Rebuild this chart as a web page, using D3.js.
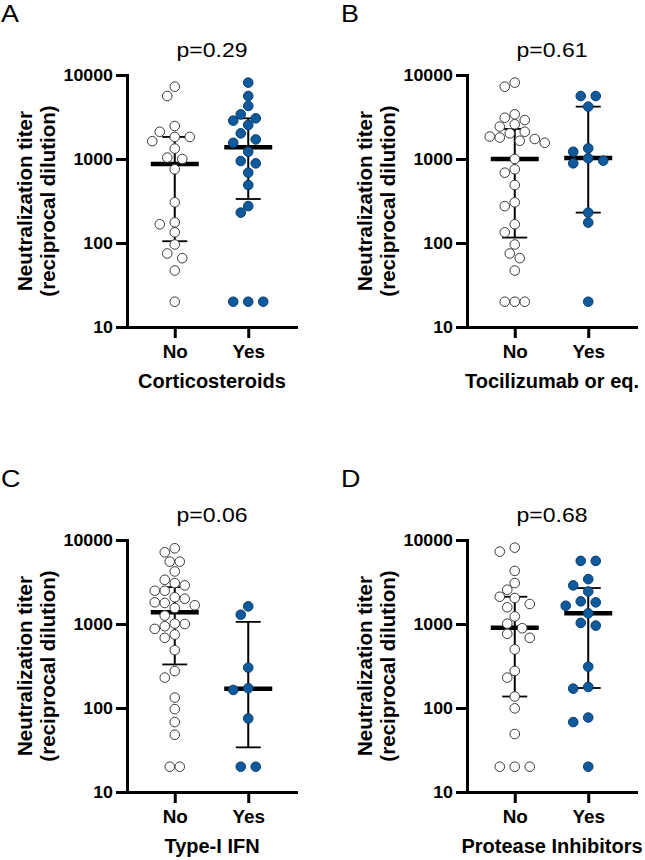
<!DOCTYPE html>
<html>
<head>
<meta charset="utf-8">
<script src="https://cdn.jsdelivr.net/npm/d3@7"></script>
<style>
  body { margin: 0; background: #fff; }
  svg { display: block; font-family: "Liberation Sans", Arial, sans-serif; }
</style>
</head>
<body>
<div class="figure"></div>
<script>
//Panel labels and texts
var panelLetters = ["A", "B", "C", "D"];
var treatments = ["Corticosteroids", "Tocilizumab or eq.", "Type-I IFN", "Protease Inhibitors"];
var pValues = ["p=0.29", "p=0.61", "p=0.06", "p=0.68"];
var groups = ["No", "Yes"];
var yTicks = [10, 100, 1000, 10000];

//Titers (reciprocal dilution)
var corticoNo = [7260, 5620, 2470, 2110, 1830, 1830, 1630, 1330, 1040, 1000, 754, 305, 176, 167, 134, 96, 75, 66, 47, 20];
var corticoYes = [8110, 5620, 4280, 3400, 3050, 2860, 2540, 2020, 1710, 1560, 1220, 946, 888, 687, 490, 275, 230, 20, 20, 20];
var tociNo = [8110, 7260, 3400, 3100, 2910, 2590, 2430, 2110, 2020, 1850, 1800, 1730, 1650, 1560, 1000, 754, 687, 490, 305, 275, 167, 134, 96, 75, 66, 47, 20, 20, 20];
var tociYes = [5620, 5620, 4200, 1340, 1220, 1020, 955, 888, 230, 175, 20];
var ifnNo = [7970, 7140, 5530, 5530, 4220, 3360, 3070, 2880, 2490, 2490, 2080, 2000, 1810, 1780, 1670, 1550, 1260, 1010, 1000, 940, 875, 748, 684, 488, 275, 230, 133, 97, 68, 48, 20, 20];
var ifnYes = [1620, 1290, 302, 172, 164, 75, 20, 20];
var piNo = [8110, 7270, 4290, 3070, 2560, 2110, 2040, 1730, 1580, 1230, 1010, 890, 764, 684, 498, 276, 230, 137, 99, 49, 20, 20, 20];
var piYes = [5640, 5640, 3420, 2880, 2440, 1860, 1810, 1650, 1340, 1030, 957, 310, 178, 170, 77, 68, 20];

//Median and error bar ends, [No, Yes] per panel
var medians = [[870, 1380], [1000, 1030], [1380, 170], [900, 1340]];
var lowerBars = [[105, 334], [116, 230], [330, 34], [137, 173]];
var upperBars = [[1830, 3050], [2280, 4200], [2750, 1060], [2110, 2680]];

var panelData = [[corticoNo, corticoYes], [tociNo, tociYes], [ifnNo, ifnYes], [piNo, piYes]];

//Width and height
var w = 645;
var h = 860;
var plotW = 169;
var plotH = 252;
var blue = "#0f5a9c";

var svg = d3.select(".figure")
    .append("svg")
    .attr("width", w)
    .attr("height", h);

//Text helper, sx widens glyphs a bit to match the original font
function addText(parent, x, y, str, size, weight, anchor, sx, rotate) {
    return parent.append("text")
        .attr("transform", "translate(" + x + "," + y + ")" + (rotate ? " rotate(-90)" : "") + " scale(" + sx + ",1)")
        .attr("text-anchor", anchor)
        .style("font-size", size + "px")
        .style("font-weight", weight)
        .style("fill", "#000")
        .text(str);
}

//Beeswarm: tied values spread symmetrically, rows then nudged sideways on collision
function swarm(values, yScale, step) {
    var pts = values.map(v => ({ v: v, y: yScale(v), dx: 0 }))
        .sort((a, b) => a.y - b.y);
    var rows = [];
    pts.forEach(p => {
        var last = rows[rows.length - 1];
        if (last && Math.abs(last[0].y - p.y) < 1.5) last.push(p);
        else rows.push([p]);
    });
    var placed = [];
    var minDist = 9.8;
    rows.forEach(row => {
        var n = row.length;
        var shifts = [0];
        for (var k = 1; k < 12; k++) shifts.push(-k * step / 2, k * step / 2);
        for (var s = 0; s < shifts.length; s++) {
            var ok = row.every((p, i) => {
                var x = (i - (n - 1) / 2) * step + shifts[s];
                return placed.every(q => Math.hypot(q.dx - x, q.y - p.y) >= minDist);
            });
            if (ok) {
                row.forEach((p, i) => { p.dx = (i - (n - 1) / 2) * step + shifts[s]; });
                break;
            }
        }
        row.forEach(p => placed.push(p));
    });
    return pts;
}

function drawPanel(i, ox, oy) {
    var panel = svg.append("g").attr("transform", "translate(" + ox + "," + oy + ")");

    addText(panel, 1, 22, panelLetters[i], 24, "normal", "start", 1.12);
    addText(panel, 212, 57, pValues[i], 20, "normal", "middle", 1.15);

    var plot = panel.append("g").attr("transform", "translate(127,75)");

    var y = d3.scaleLog().domain([10, 10000]).range([plotH, 0]);
    var x = d3.scalePoint().domain(groups).range([0, plotW]).padding(0.65);

    //Axes
    var yAxis = d3.axisLeft(y).tickValues(yTicks).tickFormat(d3.format("d"))
        .tickSize(11).tickSizeOuter(0).tickPadding(2);
    var gy = plot.append("g").call(yAxis);

    var xAxis = d3.axisBottom(x).tickSize(11).tickSizeOuter(0).tickPadding(7);
    var gx = plot.append("g").attr("transform", "translate(0," + plotH + ")").call(xAxis);

    [gy, gx].forEach(g => {
        g.select(".domain").attr("stroke-width", 3).attr("stroke-linecap", "square");
        g.selectAll(".tick line").attr("stroke-width", 3);
        g.selectAll(".tick text").style("font-family", "'Liberation Sans', Arial, sans-serif")
            .style("font-weight", "bold").attr("fill", "#000");
    });
    gy.selectAll(".tick text").style("font-size", "16.5px")
        .attr("x", -14 / 1.08)
        .attr("transform", "scale(1.08,1)");
    gx.selectAll(".tick text").style("font-size", "18px")
        .attr("transform", "scale(1.05,1)")
        .attr("x", 0);

    //Axis titles
    addText(panel, 212, 388, treatments[i], 20, "bold", "middle", 1.0);
    addText(panel, 32, 201, "Neutralization titer", 20.5, "bold", "middle", 1.0, true);
    addText(panel, 55, 201, "(reciprocal dilution)", 20.5, "bold", "middle", 1.0, true);

    //Error bars and median
    groups.forEach((grp, j) => {
        var cx = x(grp);
        var bars = plot.append("g").attr("stroke", "#000");
        bars.append("line")
            .attr("x1", cx).attr("x2", cx)
            .attr("y1", y(lowerBars[i][j])).attr("y2", y(upperBars[i][j]))
            .attr("stroke-width", 2);
        [lowerBars[i][j], upperBars[i][j]].forEach(v => {
            bars.append("line")
                .attr("x1", cx - 12.5).attr("x2", cx + 12.5)
                .attr("y1", y(v)).attr("y2", y(v))
                .attr("stroke-width", 1.8);
        });
        bars.append("line")
            .attr("x1", cx - 24).attr("x2", cx + 24)
            .attr("y1", y(medians[i][j])).attr("y2", y(medians[i][j]))
            .attr("stroke-width", 4.5);
    });

    //Dots
    groups.forEach((grp, j) => {
        var vals = panelData[i][j];
        var step = vals.length > 25 ? 10 : 15;
        var pts = swarm(vals, y, step);
        plot.selectAll(".dot-" + j)
            .data(pts)
            .enter()
            .append("circle")
            .attr("class", "dot-" + j)
            .attr("r", 4.8)
            .attr("cx", d => x(grp) + d.dx)
            .attr("cy", d => d.y)
            .style("fill", j === 0 ? "#fff" : blue)
            .style("stroke", j === 0 ? "#3a3a3a" : "#083d6e")
            .style("stroke-width", 1);
    });
}

drawPanel(0, 0, 0);
drawPanel(1, 340, 0);
drawPanel(2, 0, 465);
drawPanel(3, 340, 465);
</script>
</body>
</html>
